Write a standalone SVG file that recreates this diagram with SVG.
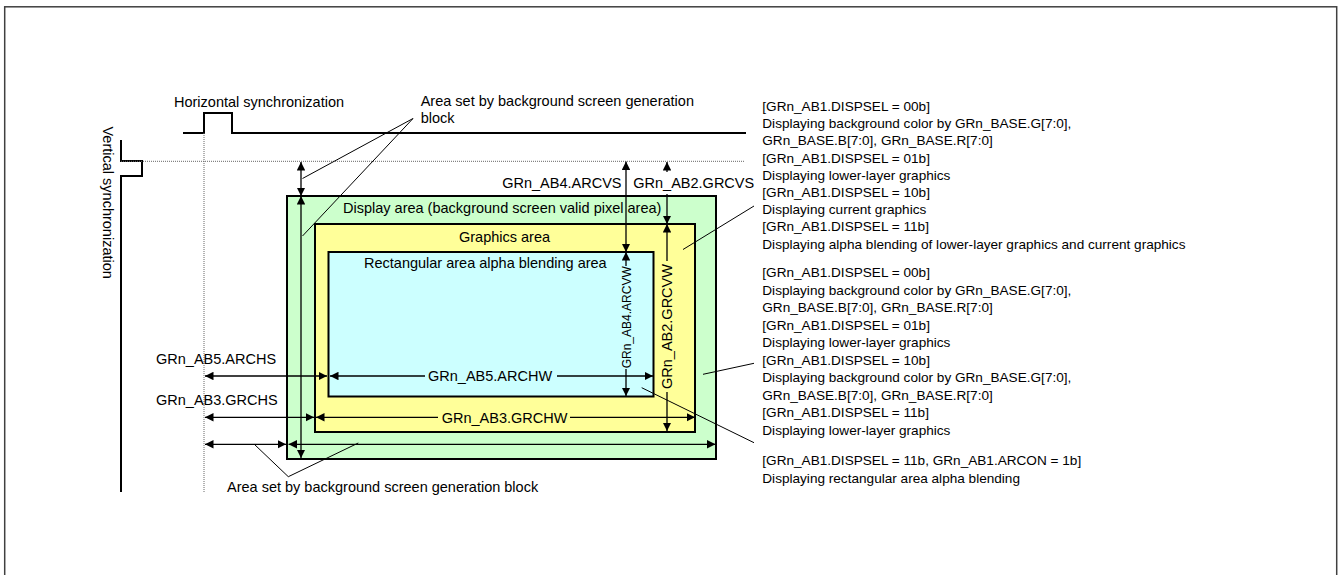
<svg xmlns="http://www.w3.org/2000/svg" width="1338" height="575" viewBox="0 0 1338 575">
<style>
text{font-family:"Liberation Sans",Arial,sans-serif;font-size:14.5px;fill:#000}
.r{font-size:13.6px}
.s{font-size:12px}
.rect{stroke:#000;stroke-width:2}
.a{stroke:#000;stroke-width:1.3;fill:none}
.ld{stroke:#000;stroke-width:1;fill:none}
.sig{stroke:#000;stroke-width:2;fill:none}
.dot{stroke:#666;stroke-width:1;stroke-dasharray:1 1;fill:none}
</style>
<defs>
<marker id="ah" viewBox="0 0 10 10" refX="10" refY="5" markerUnits="userSpaceOnUse" markerWidth="8.5" markerHeight="8.5" orient="auto-start-reverse">
<path d="M0,0 L10,5 L0,10 z" fill="#000"/>
</marker>
</defs>
<rect x="4.7" y="6.8" width="1332" height="580" fill="#fff" stroke="#404040" stroke-width="1.5"/>

<g id="hsync">
<path class="sig" d="M183,133 H204 V113 H232 V133 H746"/>
<text x="174" y="107">Horizontal synchronization</text>
</g>
<g id="vsync">
<path class="sig" d="M121,140 V161 H142 V176 H121 V492"/>
<text transform="translate(103,126.5) rotate(90)">Vertical synchronization</text>
</g>
<g id="guides">
<path class="dot" d="M121,161.3 H745"/>
<path class="dot" d="M204,133 V492"/>
</g>

<g id="display-area">
<rect class="rect" x="287" y="196" width="429" height="263" fill="#CCFFCC"/>
<text x="343" y="213">Display area (background screen valid pixel area)</text>
</g>
<g id="graphics-area">
<rect class="rect" x="315" y="224" width="380" height="208" fill="#FFFF99"/>
<text x="459" y="242">Graphics area</text>
</g>
<g id="rect-area">
<rect class="rect" x="328.5" y="252" width="325" height="144.5" fill="#CCFFFF"/>
<text x="364" y="268">Rectangular area alpha blending area</text>
</g>

<g id="connectors">
<!-- vertical -->
<path class="a" d="M301,162 V196" marker-start="url(#ah)" marker-end="url(#ah)"/>
<path class="a" d="M301,196 V458" marker-start="url(#ah)" marker-end="url(#ah)"/>
<path class="a" d="M626,161.5 V252" marker-start="url(#ah)" marker-end="url(#ah)"/>
<path class="a" d="M626,252 V266" marker-start="url(#ah)"/>
<path class="a" d="M626,369 V396" marker-end="url(#ah)"/>
<path class="a" d="M667,162 V172" marker-start="url(#ah)"/>
<path class="a" d="M667,194 V224" marker-end="url(#ah)"/>
<path class="a" d="M667,224 V261" marker-start="url(#ah)"/>
<path class="a" d="M667,392 V431" marker-end="url(#ah)"/>
<!-- horizontal -->
<path class="a" d="M205,376 H327" marker-start="url(#ah)" marker-end="url(#ah)"/>
<path class="a" d="M330,376 H425" marker-start="url(#ah)"/>
<path class="a" d="M557,376 H653" marker-end="url(#ah)"/>
<path class="a" d="M205,417.3 H314" marker-start="url(#ah)" marker-end="url(#ah)"/>
<path class="a" d="M316,417.3 H438" marker-start="url(#ah)"/>
<path class="a" d="M570,417.3 H695" marker-end="url(#ah)"/>
<path class="a" d="M205,444.3 H286" marker-start="url(#ah)" marker-end="url(#ah)"/>
<path class="a" d="M288.5,444.3 H715.5" marker-start="url(#ah)" marker-end="url(#ah)"/>
<!-- leaders -->
<path class="ld" d="M413,118.5 L302.5,178.5 M413,118.5 L302.5,236"/>
<path class="ld" d="M254,444 L288.3,476.7 L358.3,443"/>
<path class="ld" d="M683,249.5 L754,206"/>
<path class="ld" d="M703,374.3 L754,363.3"/>
<path class="ld" d="M641.7,387.7 L754,442.7"/>
</g>

<g id="labels">
<text x="420.7" y="105.7">Area set by background screen generation</text>
<text x="420.7" y="122.7">block</text>
<text x="621.5" y="188.3" text-anchor="end">GRn_AB4.ARCVS</text>
<text x="633.3" y="188.3">GRn_AB2.GRCVS</text>
<text class="s" transform="translate(631,317.3) rotate(-90)" text-anchor="middle">GRn_AB4.ARCVW</text>
<text transform="translate(672,326.5) rotate(-90)" text-anchor="middle">GRn_AB2.GRCVW</text>
<text x="156" y="363.5">GRn_AB5.ARCHS</text>
<text x="428" y="381.2">GRn_AB5.ARCHW</text>
<text x="156" y="404.5">GRn_AB3.GRCHS</text>
<text x="441.7" y="422.5">GRn_AB3.GRCHW</text>
<text x="227" y="492">Area set by background screen generation block</text>
</g>

<g id="desc-graphics" class="r">
<text class="r" x="762.3" y="111">[GRn_AB1.DISPSEL = 00b]</text>
<text class="r" x="762.3" y="128.2">Displaying background color by GRn_BASE.G[7:0],</text>
<text class="r" x="762.3" y="145.4">GRn_BASE.B[7:0], GRn_BASE.R[7:0]</text>
<text class="r" x="762.3" y="162.6">[GRn_AB1.DISPSEL = 01b]</text>
<text class="r" x="762.3" y="179.8">Displaying lower-layer graphics</text>
<text class="r" x="762.3" y="197">[GRn_AB1.DISPSEL = 10b]</text>
<text class="r" x="762.3" y="214.2">Displaying current graphics</text>
<text class="r" x="762.3" y="231.4">[GRn_AB1.DISPSEL = 11b]</text>
<text class="r" x="762.3" y="248.6">Displaying alpha blending of lower-layer graphics and current graphics</text>
</g>
<g id="desc-display">
<text class="r" x="762.3" y="277.2">[GRn_AB1.DISPSEL = 00b]</text>
<text class="r" x="762.3" y="294.7">Displaying background color by GRn_BASE.G[7:0],</text>
<text class="r" x="762.3" y="312.2">GRn_BASE.B[7:0], GRn_BASE.R[7:0]</text>
<text class="r" x="762.3" y="329.7">[GRn_AB1.DISPSEL = 01b]</text>
<text class="r" x="762.3" y="347.2">Displaying lower-layer graphics</text>
<text class="r" x="762.3" y="364.7">[GRn_AB1.DISPSEL = 10b]</text>
<text class="r" x="762.3" y="382.2">Displaying background color by GRn_BASE.G[7:0],</text>
<text class="r" x="762.3" y="399.7">GRn_BASE.B[7:0], GRn_BASE.R[7:0]</text>
<text class="r" x="762.3" y="417.2">[GRn_AB1.DISPSEL = 11b]</text>
<text class="r" x="762.3" y="434.7">Displaying lower-layer graphics</text>
</g>
<g id="desc-rect">
<text class="r" x="762.3" y="465">[GRn_AB1.DISPSEL = 11b, GRn_AB1.ARCON = 1b]</text>
<text class="r" x="762.3" y="482.6">Displaying rectangular area alpha blending</text>
</g>
</svg>
